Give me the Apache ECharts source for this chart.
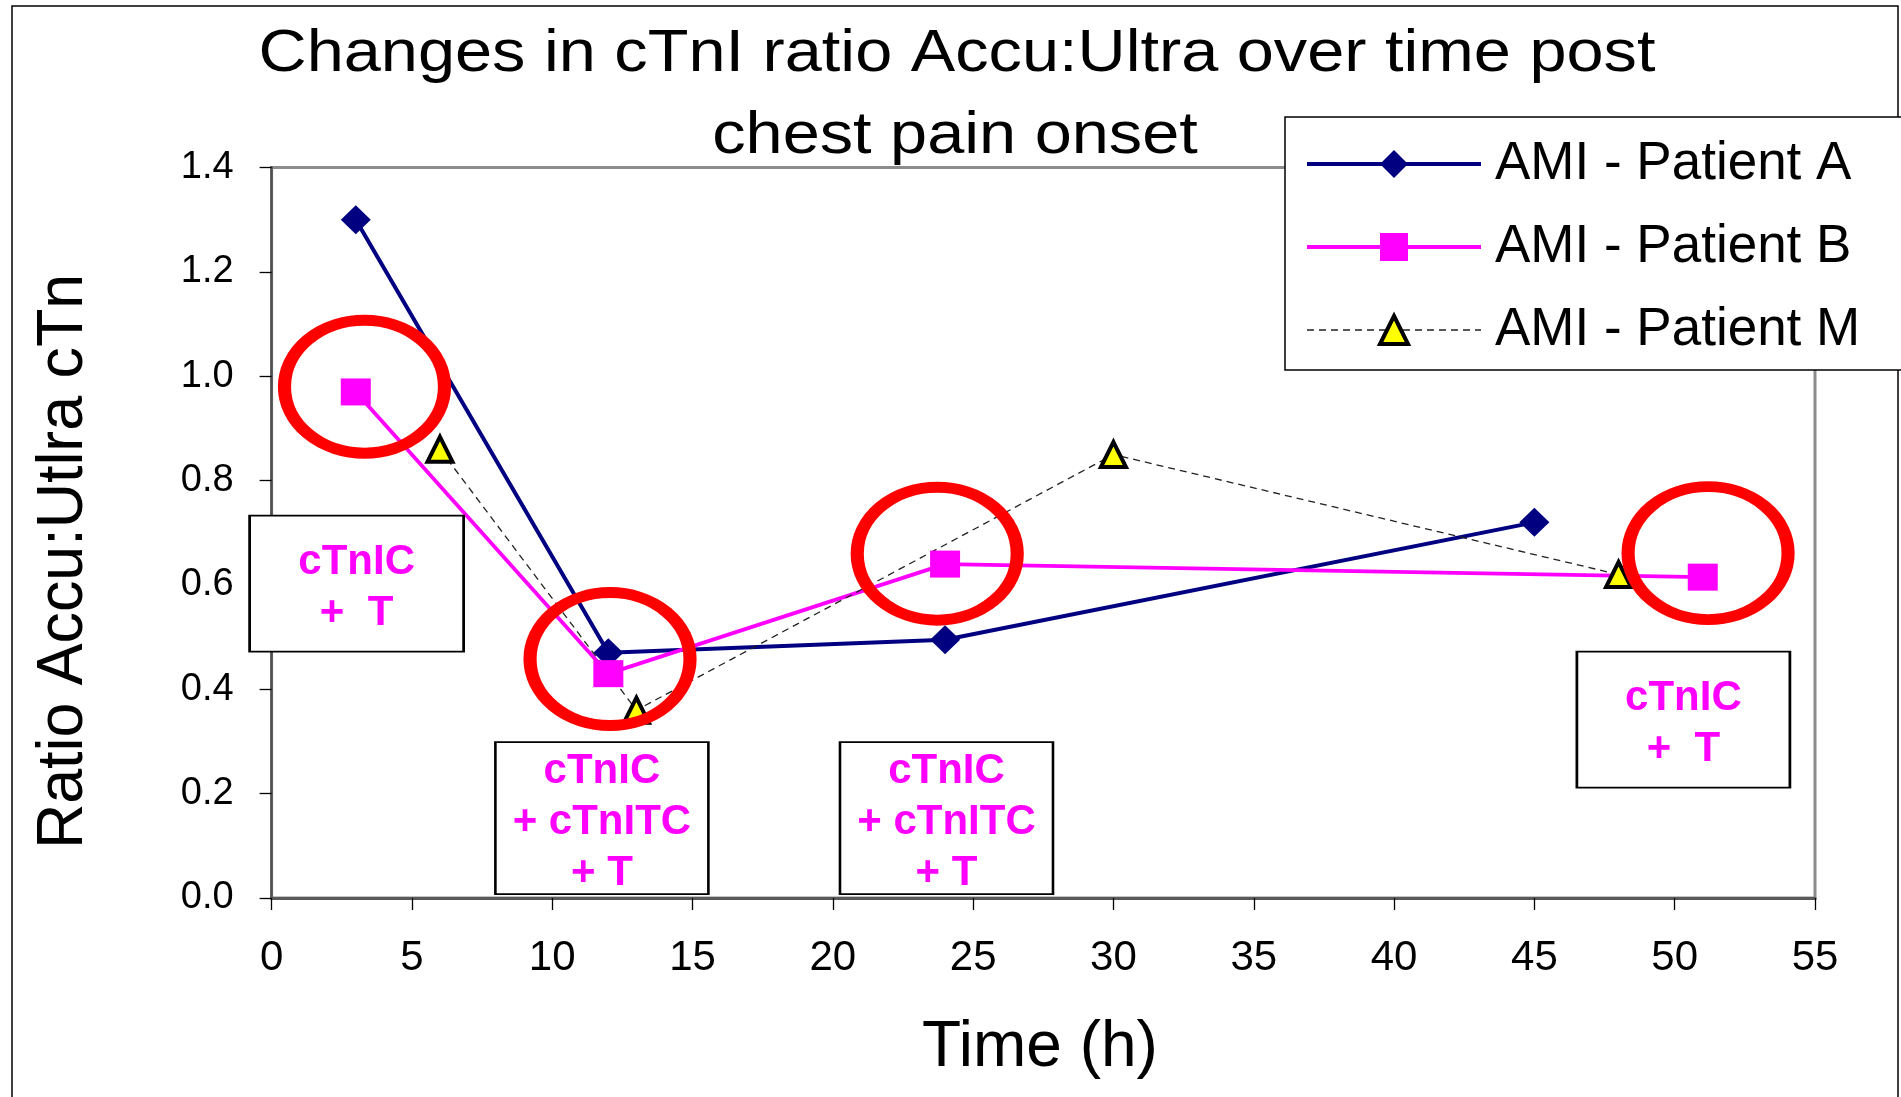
<!DOCTYPE html>
<html>
<head>
<meta charset="utf-8">
<script src="https://cdn.jsdelivr.net/npm/echarts@6/dist/echarts.min.js"></script>
<style>
  html, body { margin: 0; padding: 0; background: #fff; }
  #chart { width: 1901px; height: 1097px; }
</style>
</head>
<body>
<div id="chart"></div>
<script>
// Accu:Ultra cTnI ratio against hours after chest pain onset, one pair of arrays per patient
const timeA = [3, 12, 24, 45];
const ratioA = [1.30, 0.47, 0.495, 0.72];
const timeB = [3, 12, 24, 51];
const ratioB = [0.97, 0.43, 0.64, 0.615];
const timeM = [6, 13, 30, 48];
const ratioM = [0.86, 0.36, 0.85, 0.62];

const seriesNames = ['AMI - Patient A', 'AMI - Patient B', 'AMI - Patient M'];

// axis ranges
const xMin = 0, xMax = 55, xStep = 5;
const yMin = 0, yMax = 1.4, yStep = 0.2;

// troponin complexes found at the circled Patient B samples
const complexTexts = ['cTnIC\n+  T', 'cTnIC\n+ cTnITC\n+ T', 'cTnIC\n+ cTnITC\n+ T', 'cTnIC\n+  T'];

// annotation layout (data coordinates of the box centres and ring centres)
const boxLayout = [
  { at: [3.03, 0.6025], size: [214, 136] },
  { at: [11.77, 0.153], size: [213, 152] },
  { at: [24.05, 0.153], size: [213, 152] },
  { at: [50.31, 0.342], size: [213, 136] }
];
const ringCentres = [[3.31, 0.980], [12.06, 0.458], [23.72, 0.660], [51.19, 0.661]];

const FONT = '"Liberation Sans", Arial, sans-serif';
const pairs = (xs, ys) => xs.map((x, i) => [x, ys[i]]);

const chart = echarts.init(document.getElementById('chart'), null, { renderer: 'canvas' });

chart.setOption({
  animation: false,
  backgroundColor: '#fff',
  grid: {
    left: 271.6, right: 86, top: 167.6, bottom: 199,
    show: true, borderColor: '#8c8c8c', borderWidth: 3, backgroundColor: 'transparent'
  },
  xAxis: {
    type: 'value', min: xMin, max: xMax, interval: xStep,
    axisLine: { show: true, onZero: false, lineStyle: { color: '#5a5a5a', width: 3 } },
    axisTick: { show: true, inside: false, length: 12, lineStyle: { color: '#000', width: 1.3 } },
    axisLabel: { color: '#000', fontFamily: FONT, fontSize: 42, lineHeight: 42, margin: 39 },
    splitLine: { show: false }
  },
  yAxis: {
    type: 'value', min: yMin, max: yMax, interval: yStep,
    axisLine: { show: true, onZero: false, lineStyle: { color: '#505050', width: 2.5 } },
    axisTick: { show: true, inside: false, length: 12, lineStyle: { color: '#000', width: 1.3 } },
    axisLabel: { color: '#000', fontFamily: FONT, fontSize: 38, margin: 38,
      formatter: v => v.toFixed(1) },
    splitLine: { show: false }
  },
  legend: {
    data: seriesNames,
    orient: 'vertical', left: 1285, top: 117,
    padding: [19, 50, 12, 20],
    itemWidth: 174, itemHeight: 35, itemGap: 27,
    backgroundColor: '#fff', borderColor: '#000', borderWidth: 1.5,
    selectedMode: false,
    lineStyle: { width: 'inherit' },
    itemStyle: { borderWidth: 'inherit' },
    textStyle: { color: '#000', fontFamily: FONT, fontSize: 53, lineHeight: 56, padding: [0, 0, 0, 9] }
  },
  graphic: [
    { type: 'rect', z: 0, silent: true,
      shape: { x: 12, y: 6, width: 1886, height: 1200 },
      style: { fill: 'none', stroke: '#000', lineWidth: 1.5 } },
    { type: 'text', x: 957, y: 54.6, scaleX: 1.13, silent: true,
      style: { text: 'Changes in cTnI ratio Accu:Ultra over time post', fontFamily: FONT, fontSize: 59,
        fill: '#000', align: 'center', verticalAlign: 'middle' } },
    { type: 'text', x: 955, y: 136.3, scaleX: 1.13, silent: true,
      style: { text: 'chest pain onset', fontFamily: FONT, fontSize: 59,
        fill: '#000', align: 'center', verticalAlign: 'middle' } },
    { type: 'text', x: 64.5, y: 561.5, rotation: Math.PI / 2, scaleX: 0.965, silent: true,
      style: { text: 'Ratio Accu:Utlra cTn', fontFamily: FONT, fontSize: 65,
        fill: '#000', align: 'center', verticalAlign: 'middle' } },
    { type: 'text', x: 1040, y: 1048, silent: true,
      style: { text: 'Time (h)', fontFamily: FONT, fontSize: 64,
        fill: '#000', align: 'center', verticalAlign: 'middle' } }
  ],
  series: [
    {
      name: seriesNames[0], type: 'line', z: 2,
      data: pairs(timeA, ratioA),
      symbol: 'diamond', symbolSize: [30, 29],
      itemStyle: { color: '#000080' },
      lineStyle: { color: '#000080', width: 4 }
    },
    {
      name: seriesNames[1], type: 'line', z: 2,
      data: pairs(timeB, ratioB),
      symbol: 'rect', symbolSize: [30, 27],
      itemStyle: { color: '#ff00ff' },
      lineStyle: { color: '#ff00ff', width: 3.8 }
    },
    {
      name: seriesNames[2], type: 'line', z: 2,
      data: pairs(timeM, ratioM),
      symbol: 'triangle', symbolSize: 25,
      itemStyle: { color: '#ffff00', borderColor: '#000', borderWidth: 4 },
      lineStyle: { color: '#222', width: 1.3, type: [7, 5] }
    },
    {
      name: 'complex boxes', type: 'scatter', z: 3, silent: true, clip: false,
      symbol: 'rect',
      data: boxLayout.map((b, i) => ({ value: b.at, symbolSize: b.size, label: { formatter: complexTexts[i] } })),
      itemStyle: { color: '#fff', borderColor: '#000', borderWidth: 2.2, opacity: 1 },
      label: { show: true, position: 'inside', offset: [0, 4], color: '#ff00ff', fontFamily: FONT,
        fontWeight: 'bold', fontSize: 42, lineHeight: 51, align: 'center' },
      emphasis: { disabled: true }
    },
    {
      name: 'rings', type: 'scatter', z: 4, silent: true, clip: false,
      symbol: 'circle', symbolSize: [160, 133],
      data: ringCentres,
      itemStyle: { color: 'rgba(0,0,0,0)', borderColor: '#ff0000', borderWidth: 12, opacity: 1 },
      emphasis: { disabled: true }
    }
  ]
});
</script>
</body>
</html>
